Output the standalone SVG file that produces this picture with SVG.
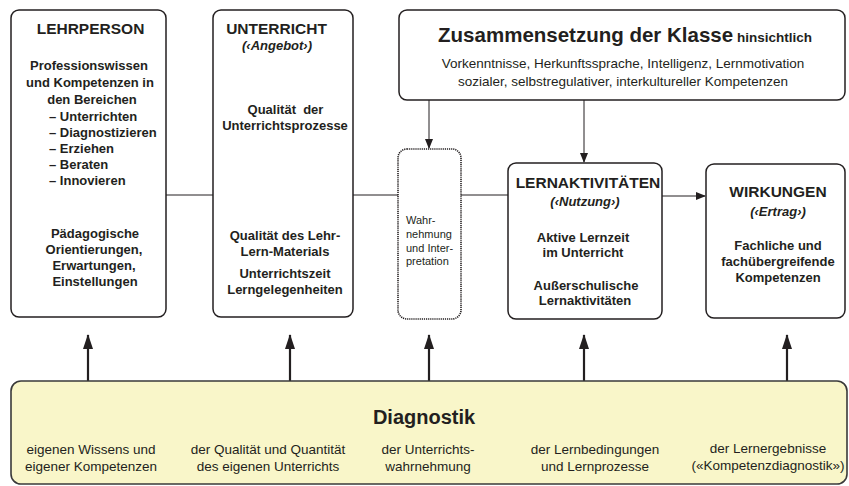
<svg xmlns="http://www.w3.org/2000/svg" width="849" height="486" viewBox="0 0 849 486">
<style>
text{font-family:"Liberation Sans",Arial,sans-serif;fill:#231f20}
.box{fill:#fff;stroke:#231f20;stroke-width:1.5}
.dot{fill:#fff;stroke:#231f20;stroke-width:1.6;stroke-dasharray:1.2 0.9}
.diag{fill:#f9f6c9;stroke:#3a3a3a;stroke-width:1.6}
.t{font-size:15.5px;font-weight:bold;text-anchor:middle}
.b{font-size:13px;font-weight:bold;text-anchor:middle}
.bl{font-size:13px;font-weight:bold}
.sub{font-size:13px;font-weight:bold;font-style:italic;text-anchor:middle}
.r{font-size:13.5px;text-anchor:middle}
.s{font-size:11px}
.con{stroke:#231f20;stroke-width:1;fill:none}
.up{stroke:#231f20;stroke-width:2.2;fill:none}
</style>
<defs>
<marker id="ah" markerWidth="10" markerHeight="10" refX="9" refY="4" orient="auto" markerUnits="userSpaceOnUse"><path d="M0,0 L10,4 L0,8 Z" fill="#231f20"/></marker>
<marker id="au" markerWidth="15" markerHeight="12" refX="14" refY="5" orient="auto" markerUnits="userSpaceOnUse"><path d="M0,0 L15,5 L0,10 Z" fill="#231f20"/></marker>
</defs>
<g id="connectors">
<line class="con" x1="166" y1="195" x2="213" y2="195"/>
<line class="con" x1="353" y1="195" x2="398" y2="195"/>
<line class="con" x1="461" y1="195" x2="508" y2="195"/>
<line class="con" x1="662" y1="196" x2="705" y2="196" marker-end="url(#ah)"/>
<line class="con" x1="429" y1="100" x2="429" y2="148" marker-end="url(#ah)"/>
<line class="con" x1="584" y1="100" x2="584" y2="162" marker-end="url(#ah)"/>
<line class="up" x1="88" y1="381" x2="88" y2="335" marker-end="url(#au)"/>
<line class="up" x1="290" y1="381" x2="290" y2="335" marker-end="url(#au)"/>
<line class="up" x1="429" y1="381" x2="429" y2="335" marker-end="url(#au)"/>
<line class="up" x1="584" y1="381" x2="584" y2="335" marker-end="url(#au)"/>
<line class="up" x1="787" y1="381" x2="787" y2="335" marker-end="url(#au)"/>
</g>
<g id="lehrperson">
<rect class="box" x="11" y="10" width="155" height="307" rx="8"/>
<text class="t" x="90.5" y="34">LEHRPERSON</text>
<text class="b" x="89" y="70">Professionswissen</text>
<text class="b" x="90" y="87">und Kompetenzen in</text>
<text class="b" x="92" y="104">den Bereichen</text>
<text class="bl" x="49" y="120.5">– Unterrichten</text>
<text class="bl" x="49" y="136.5">– Diagnostizieren</text>
<text class="bl" x="49" y="152.5">– Erziehen</text>
<text class="bl" x="49" y="169">– Beraten</text>
<text class="bl" x="49" y="185">– Innovieren</text>
<text class="b" x="95" y="238">Pädagogische</text>
<text class="b" x="94" y="254">Orientierungen,</text>
<text class="b" x="94" y="270">Erwartungen,</text>
<text class="b" x="95" y="286">Einstellungen</text>
</g>
<g id="unterricht">
<rect class="box" x="213" y="10" width="140" height="307" rx="8"/>
<text class="t" x="276.5" y="34">UNTERRICHT</text>
<text class="sub" x="277" y="50">(‹Angebot›)</text>
<text class="b" x="285.5" y="114" xml:space="preserve">Qualität  der</text>
<text class="b" x="285" y="130">Unterrichtsprozesse</text>
<text class="b" x="285" y="240">Qualität des Lehr-</text>
<text class="b" x="285" y="256">Lern-Materials</text>
<text class="b" x="285" y="278">Unterrichtszeit</text>
<text class="b" x="285" y="294">Lerngelegenheiten</text>
</g>
<g id="klasse">
<rect class="box" x="399" y="10" width="446" height="90" rx="8"/>
<text x="625" y="42" text-anchor="middle" font-weight="bold"><tspan font-size="20.5px">Zusammensetzung der Klasse</tspan><tspan font-size="13.5px"> hinsichtlich</tspan></text>
<text class="r" x="623" y="68" font-size="12.5px">Vorkenntnisse, Herkunftssprache, Intelligenz, Lernmotivation</text>
<text class="r" x="623" y="86" font-size="12.5px">sozialer, selbstregulativer, interkultureller Kompetenzen</text>
</g>
<g id="wahrnehmung">
<rect class="dot" x="398" y="149" width="63" height="170" rx="9"/>
<text class="s" x="406" y="224">Wahr-</text>
<text class="s" x="406" y="238">nehmung</text>
<text class="s" x="406" y="252">und Inter-</text>
<text class="s" x="406" y="265">pretation</text>
</g>
<g id="lernaktivitaeten">
<rect class="box" x="508" y="163" width="154" height="156" rx="8"/>
<text class="t" x="588" y="188">LERNAKTIVITÄTEN</text>
<text class="sub" x="585" y="206">(‹Nutzung›)</text>
<text class="b" x="583" y="242">Aktive Lernzeit</text>
<text class="b" x="583" y="257">im Unterricht</text>
<text class="b" x="586" y="290">Außerschulische</text>
<text class="b" x="585" y="305">Lernaktivitäten</text>
</g>
<g id="wirkungen">
<rect class="box" x="706" y="164" width="139" height="154" rx="8"/>
<text class="t" x="778" y="197">WIRKUNGEN</text>
<text class="sub" x="778" y="216">(‹Ertrag›)</text>
<text class="b" x="778" y="250">Fachliche und</text>
<text class="b" x="778" y="266">fachübergreifende</text>
<text class="b" x="778" y="282">Kompetenzen</text>
</g>
<g id="diagnostik">
<rect class="diag" x="11" y="381" width="836" height="103" rx="10"/>
<text x="424" y="424" text-anchor="middle" font-size="20px" font-weight="bold">Diagnostik</text>
<text class="r" x="91" y="454">eigenen Wissens und</text>
<text class="r" x="91" y="471">eigener Kompetenzen</text>
<text class="r" x="268" y="454">der Qualität und Quantität</text>
<text class="r" x="268" y="471">des eigenen Unterrichts</text>
<text class="r" x="428" y="454">der Unterrichts-</text>
<text class="r" x="428" y="471">wahrnehmung</text>
<text class="r" x="595" y="454">der Lernbedingungen</text>
<text class="r" x="595" y="471">und Lernprozesse</text>
<text class="r" x="768" y="453">der Lernergebnisse</text>
<text class="r" x="768" y="470">(«Kompetenzdiagnostik»)</text>
</g>
</svg>
